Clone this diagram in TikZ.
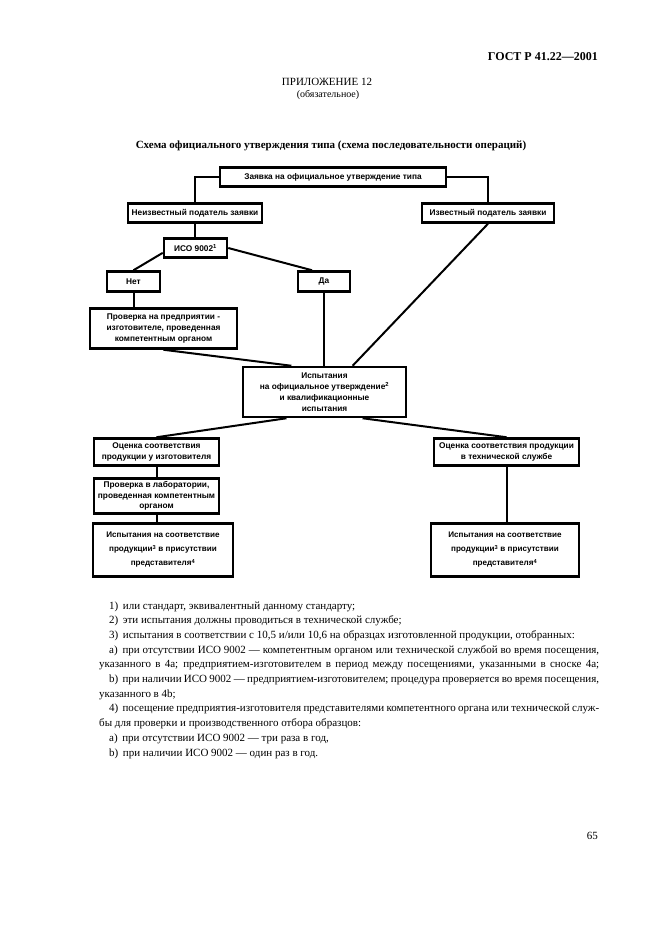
\documentclass[tikz,border=0pt]{standalone}
\usepackage{fontspec}
\setmainfont{Liberation Serif}
\newfontfamily\boxfont{Liberation Sans}
\usetikzlibrary{calc}
\begin{document}
\begin{tikzpicture}[x=1pt,y=-1pt,
  box/.style={draw, line width=2.5pt, inner sep=0.5pt, align=center,
    font=\boxfont\bfseries\fontsize{8.3}{10.8}\selectfont},
  conn/.style={line width=2pt},
  note/.style={anchor=base west, inner sep=0pt, font=\fontsize{11}{14.7}\selectfont}]
\fill[white] (0,0) rectangle (661,936);
\useasboundingbox (0,0) rectangle (661,936);

% header
\node[anchor=base east, inner sep=0pt, font=\bfseries\fontsize{12}{14}\selectfont] (hdr) at (598,61) {ГОСТ Р 41.22—2001};
\node[inner sep=0pt, font=\fontsize{11}{13}\selectfont] (app) at (327,82) {ПРИЛОЖЕНИЕ 12};
\node[inner sep=0pt, font=\fontsize{10}{12}\selectfont] (oblig) at (328,95) {(обязательное)};
\node[inner sep=0pt, font=\bfseries\fontsize{11}{13}\selectfont] (title) at (331,146) {Схема официального утверждения типа (схема последовательности операций)};

% boxes
\node[box, minimum width=226, minimum height=19] (b1) at (333,177) {Заявка на официальное утверждение типа};
\node[box, minimum width=134, minimum height=19] (b2) at (195,213) {Неизвестный податель заявки};
\node[box, minimum width=132, minimum height=19] (b3) at (488,213) {Известный податель заявки};
\node[box, minimum width=63, minimum height=19] (b4) at (195.5,248) {ИСО 9002\textsuperscript{1}};
\node[box, minimum width=53, minimum height=20] (b5) at (133.5,281.5) {Нет};
\node[box, minimum width=52, minimum height=20] (b6) at (324,281.5) {Да};
\node[box, minimum width=147, minimum height=40] (b7) at (163.5,328.5) {Проверка на предприятии -\\изготовителе, проведенная\\компетентным органом};
\node[box, minimum width=163, minimum height=50] (b8) at (324.5,392) {Испытания\\на официальное утверждение\textsuperscript{2}\\и квалификационные\\испытания};
\node[box, minimum width=125, minimum height=27] (b9) at (156.5,452) {Оценка соответствия\\продукции у изготовителя};
\node[box, minimum width=145, minimum height=27] (b10) at (506.5,452) {Оценка соответствия продукции\\в технической службе};
\node[box, minimum width=125, minimum height=35] (b11) at (156.5,496) {Проверка в лаборатории,\\проведенная компетентным\\органом};
\node[box, minimum width=140, minimum height=53, font=\boxfont\bfseries\fontsize{8.1}{14}\selectfont] (b12) at (163,550) {Испытания на соответствие\\продукции\textsuperscript{3} в присутствии\\представителя\textsuperscript{4}};
\node[box, minimum width=148, minimum height=53, font=\boxfont\bfseries\fontsize{8.1}{14}\selectfont] (b13) at (505,550) {Испытания на соответствие\\продукции\textsuperscript{3} в присутствии\\представителя\textsuperscript{4}};

% connectors
\draw[conn] (b1.west) -| (b2.north);
\draw[conn] (b1.east) -| (b3.north);
\draw[conn] (b2.south) -- (b2.south |- b4.north);
\draw[conn] ($(b4.west)!0.45!(b4.south west)$) -- (b5.north);
\draw[conn] (b4.east) -- ($(b6.north west)!0.28!(b6.north east)$);
\draw[conn] (b5.south) -- (b5.south |- b7.north);
\draw[conn] (b6.south) -- (b6.south |- b8.north);
\draw[conn] (b7.south) -- ($(b8.north west)!0.3!(b8.north east)$);
\draw[conn] (b3.south) -- ($(b8.north west)!0.67!(b8.north east)$);
\draw[conn] ($(b8.south west)!0.27!(b8.south east)$) -- (b9.north);
\draw[conn] ($(b8.south west)!0.73!(b8.south east)$) -- (b10.north);
\draw[conn] (b9.south) -- (b9.south |- b11.north);
\draw[conn] (b11.south) -- (b11.south |- b12.north);
\draw[conn] (b10.south) -- (b10.south |- b13.north);

% notes
\node[note] (n1) at (109,609) {1)\, или стандарт, эквивалентный данному стандарту;};
\node[note] (n2) at (109,623.7) {2)\, эти испытания должны проводиться в технической службе;};
\node[note] (n3) at (109,638.4) {3)\, испытания в соответствии с 10,5 и/или 10,6 на образцах изготовленной продукции, отобранных:};
\node[note] (n4) at (109,653.1) {\makebox[490pt][s]{a)\, при отсутствии ИСО 9002 — компетентным органом или технической службой во время посещения,}};
\node[note] (n5) at (99,667.8) {\makebox[500pt][s]{указанного в 4a; предприятием-изготовителем в период между посещениями, указанными в сноске 4a;}};
\node[note] (n6) at (109,682.5) {\makebox[490pt][s]{b)\, при наличии ИСО 9002 — предприятием-изготовителем; процедура проверяется во время посещения,}};
\node[note] (n7) at (99,697.2) {указанного в 4b;};
\node[note] (n8) at (109,711.9) {\makebox[490pt][s]{4)\, посещение предприятия-изготовителя представителями компетентного органа или технической служ-}};
\node[note] (n9) at (99,726.6) {бы для проверки и производственного отбора образцов:};
\node[note] (n10) at (109,741.3) {a)\, при отсутствии ИСО 9002 — три раза в год,};
\node[note] (n11) at (109,756) {b)\, при наличии ИСО 9002 — один раз в год.};

\node[anchor=base east, inner sep=0pt, font=\fontsize{11}{13}\selectfont] (pg) at (598,839) {65};
\end{tikzpicture}
\end{document}
